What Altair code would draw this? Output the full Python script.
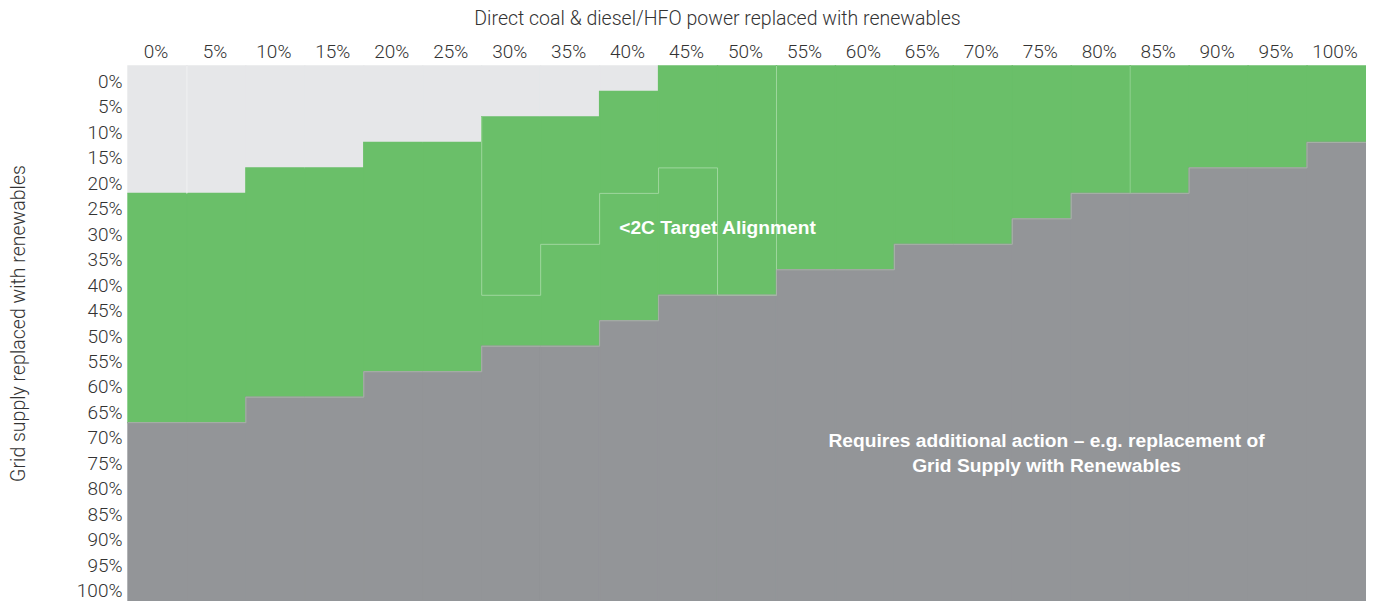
import altair as alt
import pandas as pd

# ---- data ----
pcts = list(range(0, 101, 5))                      # column / row categories (%)
light_rows = [5, 5, 4, 4, 3, 3, 2, 2, 1, 0, 0, 0, 0, 0, 0, 0, 0, 0, 0, 0, 0]   # light-gray cells from top per column
gray_start = [14, 14, 13, 13, 12, 12, 11, 11, 10, 9, 9, 8, 8, 7, 7, 6, 5, 5, 4, 4, 3]  # row where dark gray begins
target_cols = [6, 7, 8, 9, 10]                     # outlined sub-region inside the green zone
target_bottom = [9, 7, 5, 4, 9]
seam_cols = [1, 17]                                # faint polygon seams in the original

zone_names = ["Already aligned", "<2C Target Alignment", "Requires additional action"]
zone_colors = ["#e6e7e9", "#6abf69", "#939598"]

x_title = "Direct coal & diesel/HFO power replaced with renewables"
y_title = "Grid supply replaced with renewables"
notes = [
    {"x": 47.5, "y": 29.3, "text": "<2C Target Alignment"},
    {"x": 75.4, "y": 71.1, "text": "Requires additional action \u2013 e.g. replacement of\nGrid Supply with Renewables"},
]

n = len(pcts)

# ---- build tables ----
cells = []
for c, p in enumerate(pcts):
    segs = [(0, 0, light_rows[c]), (1, light_rows[c], gray_start[c]), (2, gray_start[c], n)]
    for z, r0, r1 in segs:
        if r1 > r0:
            cells.append({"col": p, "r0": pcts[r0], "r1": pcts[r1 - 1], "zone": zone_names[z]})
cells = pd.DataFrame(cells)

lines = []
def add_path(pts, gid, color):
    for i, (ex, ey) in enumerate(pts):
        lines.append({"ex": ex, "ey": ey, "g": gid, "o": i, "stroke": color})

# target outline (open path, bottom/right side)
pts = [(target_cols[0], light_rows[target_cols[0]])]
for c, b in zip(target_cols, target_bottom):
    pts += [(c, b), (c + 1, b)]
pts.append((target_cols[-1] + 1, light_rows[target_cols[-1]]))
add_path(pts, "target", "#9fd79e")
# green / dark-gray boundary
pts = []
for c in range(n):
    pts += [(c, gray_start[c]), (c + 1, gray_start[c])]
add_path(pts, "edge", "#a7b3a7")
# seams
add_path([(seam_cols[0], 0), (seam_cols[0], light_rows[seam_cols[0] - 1])], "seam1", "#f1f1f2")
add_path([(seam_cols[1], 0), (seam_cols[1], gray_start[seam_cols[1] - 1])], "seam2", "#8fd08e")
lines = pd.DataFrame(lines)

FONT = "Roboto"
BOLD = "Liberation Sans"
xscale = alt.Scale(domain=[-2.5, 102.5], nice=False, zero=False)
yscale = alt.Scale(domain=[-2.5, 102.5], nice=False, zero=False, reverse=True)

common = dict(values=pcts, labelExpr="datum.value + '%'", grid=False, ticks=False, tickSize=0,
              domain=False, labelOverlap=False,
              labelFont=FONT, labelFontSize=19, labelFontWeight=300, labelColor="#333333",
              titleFont=FONT, titleFontSize=19.5, titleFontWeight=300, titleColor="#333333",
              titleAlign="center", titleBaseline="middle")
xaxis = alt.Axis(orient="top", title=x_title, labelPadding=5, labelOffset=-2,
                 titleX=589, titleY=-48, **common)
yaxis = alt.Axis(orient="left", title=y_title, labelPadding=6, labelOffset=2.5,
                 titleX=-110, titleY=257, titleAngle=-90, **common)

color_scale = alt.Scale(domain=zone_names, range=zone_colors)

rects = alt.Chart(cells).transform_calculate(
    x="datum.col - 2.5", x2="datum.col + 2.5", y="datum.r0 - 2.5", y2="datum.r1 + 2.5"
).mark_rect(strokeWidth=1.4).encode(
    x=alt.X("x:Q", scale=xscale, axis=xaxis, title=x_title),
    x2="x2:Q",
    y=alt.Y("y:Q", scale=yscale, axis=yaxis, title=y_title),
    y2="y2:Q",
    color=alt.Color("zone:N", scale=color_scale, legend=None),
    stroke=alt.Stroke("zone:N", scale=color_scale, legend=None),
)

outline = alt.Chart(lines).transform_calculate(
    px="datum.ex * 5 - 2.5", py="datum.ey * 5 - 2.5"
).mark_line(strokeWidth=1, interpolate="linear").encode(
    x=alt.X("px:Q", scale=xscale, axis=xaxis, title=x_title),
    y=alt.Y("py:Q", scale=yscale, axis=yaxis, title=y_title),
    detail="g:N",
    order=alt.Order("o:Q"),
    color=alt.Color("stroke:N", scale=None),
)

labels = alt.Chart(pd.DataFrame(notes)).mark_text(
    font=BOLD, fontSize=19.2, fontWeight="bold", color="white",
    align="center", baseline="middle", lineBreak="\n", lineHeight=25
).encode(
    x=alt.X("x:Q", scale=xscale, axis=xaxis, title=x_title),
    y=alt.Y("y:Q", scale=yscale, axis=yaxis, title=y_title),
    text="text:N",
)

chart = alt.layer(rects, outline, labels).properties(
    width=1238, height=535, autosize="none",
    padding={"left": 120, "top": 58, "right": 0, "bottom": 0},
).configure_view(stroke=None).configure(background="white")

chart.save("out.html", embed_options={"renderer": "svg", "actions": False})
